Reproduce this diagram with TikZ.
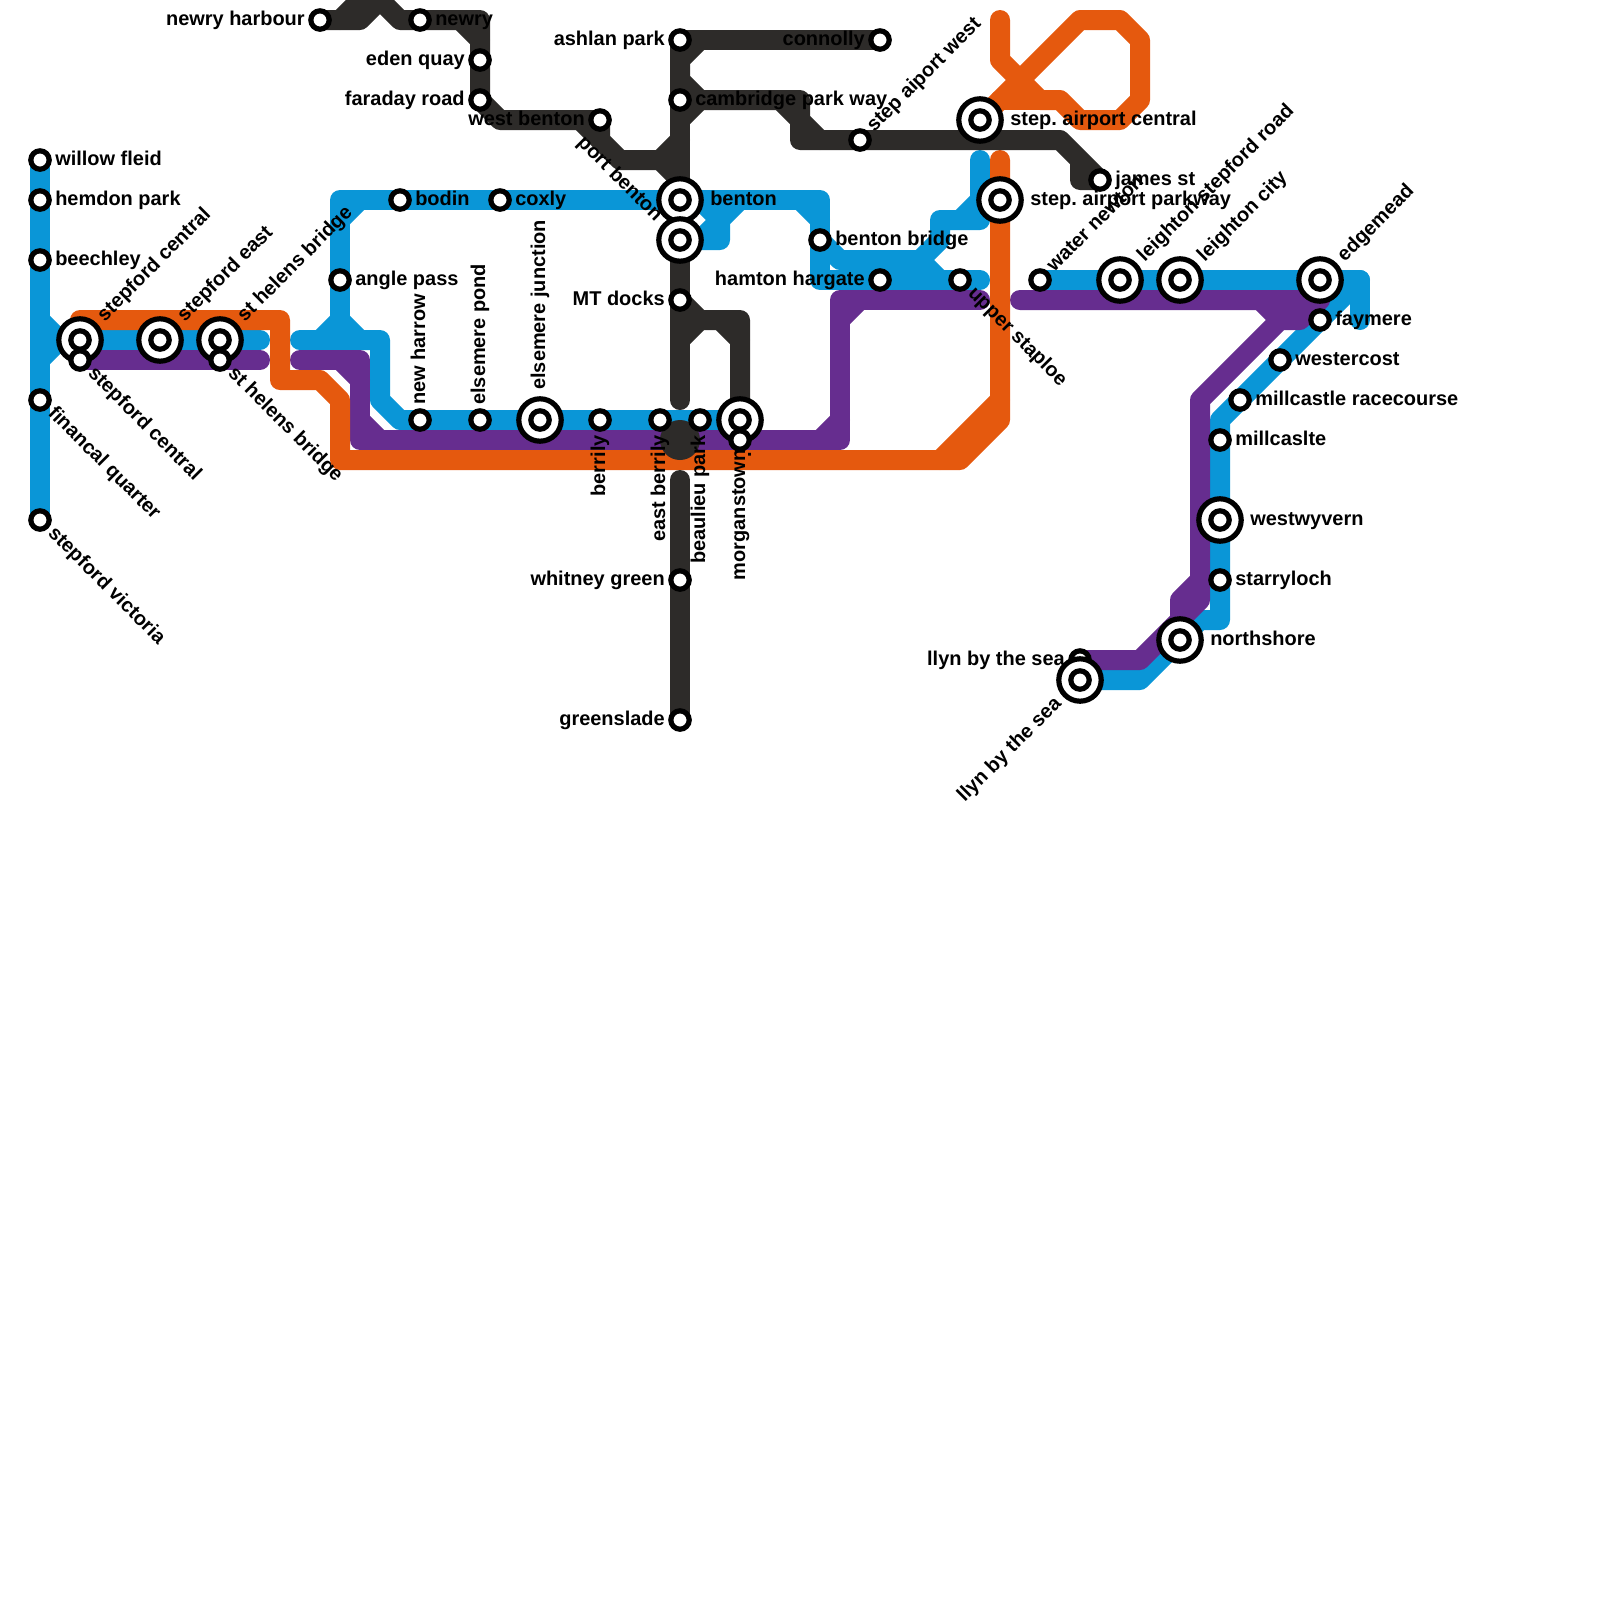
\documentclass[tikz,border=0pt]{standalone}
\usepackage{fontspec}
\setmainfont{Liberation Sans}
\usetikzlibrary{backgrounds}
\definecolor{blueln}{HTML}{0A96D7}
\definecolor{purpln}{HTML}{662D8F}
\definecolor{orngln}{HTML}{E5590E}
\definecolor{darkln}{HTML}{2D2B29}
\begin{document}
\frenchspacing
\begin{tikzpicture}[
  x=5mm, y=-5mm,
  font=\bfseries\fontsize{14.2}{16}\selectfont,
  stn/.style={circle, draw=black, fill=white, line width=1.3mm, minimum size=4.6mm, inner sep=0pt, outer sep=0pt},
  bigstn/.style={circle, draw=black, fill=white, line width=1.3mm, minimum size=10.6mm, inner sep=0pt, outer sep=0pt},
  mline/.style={line width=5mm, line join=round, line cap=round},
  lab/.style={anchor=base west, inner sep=0pt, xshift=3.75mm, yshift=-1.25mm},
  labl/.style={anchor=base east, inner sep=0pt, xshift=-3.75mm, yshift=-1.25mm},
  blab/.style={anchor=base west, inner sep=0pt, xshift=7.5mm, yshift=-1.25mm},
  blabl/.style={anchor=base east, inner sep=0pt, xshift=-7.5mm, yshift=-1.25mm},
]
\useasboundingbox (0,0) rectangle (80,80);
% Stations
\node[stn] (llynn) at (54,33) {};
\foreach \nm/\x/\y in {stepc/4/17, stepe/8/17, sthel/11/17, junct/27/21, benton/34/10, portb/34/12, morgan/37/21,
    airpc/49/6, airpp/50/10, leis/56/14, leic/59/14, edge/66/14, westw/61/26, north/59/32, llyn/54/34} {
  \node[bigstn] (\nm) at (\x,\y) {};
  \node[stn] (\nm i) at (\x,\y) {};
}
\foreach \nm/\x/\y in {willow/2/8, hemdon/2/10, beech/2/13, finan/2/20, vict/2/26, stepcs/4/18, sthels/11/18,
    angle/17/14, bodin/20/10, coxly/25/10, harbour/16/1, newry/21/1, eden/24/3, faraday/24/5, westb/30/6,
    ashlan/34/2, cambr/34/5, connol/44/2, docks/34/15, harrow/21/21, pond/24/21, berrily/30/21, eastb/33/21,
    beaul/35/21, morgans/37/22, whitney/34/29, green/34/36, bbridge/41/12, hamton/44/14, upper/48/14,
    water/52/14, aiportw/43/7, james/55/9, faymere/66/16, wester/64/18, racec/62/20, millc/61/22, starry/61/29} {
  \node[stn] (\nm) at (\x,\y) {};
}
% Lines
\begin{scope}[on background layer]
\draw[mline, blueln] (willow.center) -- (vict.center);
\draw[mline, blueln] (2,16) -- (3,17) -- (2,18);
\draw[mline, blueln] (3,17) -- (13,17);
\draw[mline, blueln] (15,17) -- (19,17) -- (19,20) -- (20,21) -- (36,21);
\draw[mline, blueln] (16,17) -- (17,16) -- (18,17);
\draw[mline, blueln] (17,16) -- (17,10) -- (41,10) -- (41,14) -- (49,14);
\draw[mline, blueln] (17,11) -- (18,10);
\draw[mline, blueln] (40,10) -- (41,11);
\draw[mline, blueln] (portb.center) -- (36,12) -- (36,11) -- (37,10);
\draw[mline, blueln] (35,10) -- (36,11) -- (35,12);
\draw[mline, blueln] (bbridge.center) -- (42,13) -- (46,13) -- (47,12) -- (47,11) -- (49,11) -- (49,8);
\draw[mline, blueln] (46,13) -- (47,14);
\draw[mline, blueln] (48,11) -- (49,10);
\draw[mline, blueln] (water.center) -- (68,14) -- (68,16);
\draw[mline, blueln] (68,14) -- (faymere.center) -- (61,21) -- (61,31) -- (60,31) -- (57,34) -- (llyn.center);
\draw[mline, purpln] (stepcs.center) -- (13,18);
\draw[mline, purpln] (15,18) -- (18,18) -- (18,22) -- (42,22) -- (42,15) -- (49,15);
\draw[mline, purpln] (17,18) -- (18,19);
\draw[mline, purpln] (18,21) -- (19,22);
\draw[mline, purpln] (41,22) -- (42,21);
\draw[mline, purpln] (42,16) -- (43,15);
\draw[mline, purpln] (51,15) -- (66,15) -- (65,16) -- (64,16) -- (60,20) -- (60,30) -- (57,33) -- (llynn.center);
\draw[mline, purpln] (63,15) -- (64,16);
\draw[mline, purpln] (60,29) -- (59,30) -- (59,31);
\draw[mline, orngln] (4,16) -- (14,16) -- (14,19) -- (16,19) -- (17,20) -- (17,23) -- (48,23) -- (50,21) -- (50,8);
\draw[mline, orngln] (47,23) -- (50,20);
\draw[mline, orngln] (50,1) -- (50,3) -- (52,5) -- (53,5) -- (54,6) -- (56,6) -- (57,5) -- (57,2) -- (56,1) -- (54,1) -- (49,6);
\draw[mline, orngln] (50,5) -- (52,5);
\draw[mline, darkln] (harbour.center) -- (18,1) -- (19,0) -- (20,1) -- (24,1) -- (faraday.center) -- (25,6) -- (westb.center) -- (30,7) -- (31,8) -- (33,8) -- (34,7);
\draw[mline, darkln] (17,1) -- (18,0) -- (19,0);
\draw[mline, darkln] (23,1) -- (24,2);
\draw[mline, darkln] (29,6) -- (30,7);
\draw[mline, darkln] (33,8) -- (34,9);
\draw[mline, darkln] (ashlan.center) -- (34,20);
\draw[mline, darkln] (ashlan.center) -- (connol.center);
\draw[mline, darkln] (35,2) -- (34,3) -- (34,4) -- (35,5) -- (34,6);
\draw[mline, darkln] (cambr.center) -- (40,5) -- (40,6) -- (41,7) -- (53,7) -- (james.center) -- (54,9) -- (54,8);
\draw[mline, darkln] (39,5) -- (40,6) -- (40,7) -- (41,7);
\draw[mline, darkln] (docks.center) -- (35,16) -- (37,16) -- (37,21);
\draw[mline, darkln] (34,17) -- (35,16);
\draw[mline, darkln] (36,16) -- (37,17);
\draw[mline, darkln] (34,24) -- (green.center);
\fill[darkln] (34,22) circle (5mm);
\node[rotate=90, labl, xshift=.95mm] (morganstxt) at (morgans) {morganstown\kern-5.5pt\raisebox{-1.5mm}{.}};
\end{scope}
% Labels, straight
\foreach \nm/\txt in {willow/willow fleid, hemdon/hemdon park, beech/beechley, angle/angle pass, bodin/bodin,
    coxly/coxly, newry/newry, cambr/cambridge park way, bbridge/benton bridge, james/james st, faymere/faymere,
    wester/westercost, racec/millcastle racecourse, millc/millcaslte, starry/starryloch} {
  \node[lab] (\nm txt) at (\nm) {\txt};
}
\foreach \nm/\txt in {harbour/newry harbour, eden/eden quay, faraday/faraday road, westb/west benton, ashlan/ashlan park,
    connol/connolly, docks/MT docks, whitney/whitney green, green/greenslade, hamton/hamton hargate, llynn/llyn by the sea} {
  \node[labl] (\nm txt) at (\nm) {\txt};
}
\foreach \nm/\txt in {benton/benton, airpc/step. airport central, airpp/step. airport parkway, westw/westwyvern, north/northshore} {
  \node[blab] (\nm txt) at (\nm) {\txt};
}
% Labels, turned
\foreach \nm/\txt in {stepc/stepford central, stepe/stepford east, sthel/st helens bridge, leis/leighton stepford road,
    leic/leighton city, edge/edgemead} {
  \node[rotate=45, blab] (\nm txt) at (\nm) {\txt};
}
\foreach \nm/\txt in {aiportw/step aiport west, water/water newton} {
  \node[rotate=45, lab] (\nm txt) at (\nm) {\txt};
}
\foreach \nm/\txt in {stepcs/stepford central, sthels/st helens bridge, finan/financal quarter, vict/stepford victoria, upper/upper staploe} {
  \node[rotate=-45, lab] (\nm txt) at (\nm) {\txt};
}
\node[rotate=-45, blabl] (portbtxt) at (portb) {port benton};
\node[rotate=45, blabl] (llyntxt) at (llyn) {llyn by the sea};
\foreach \nm/\txt in {harrow/new harrow, pond/elsemere pond} {
  \node[rotate=90, lab] (\nm txt) at (\nm) {\txt};
}
\node[rotate=90, blab] (juncttxt) at (junct) {elsemere junction};
\foreach \nm/\txt in {berrily/berrily, eastb/east berrily, beaul/beaulieu park} {
  \node[rotate=90, labl] (\nm txt) at (\nm) {\txt};
}
\end{tikzpicture}
\end{document}
